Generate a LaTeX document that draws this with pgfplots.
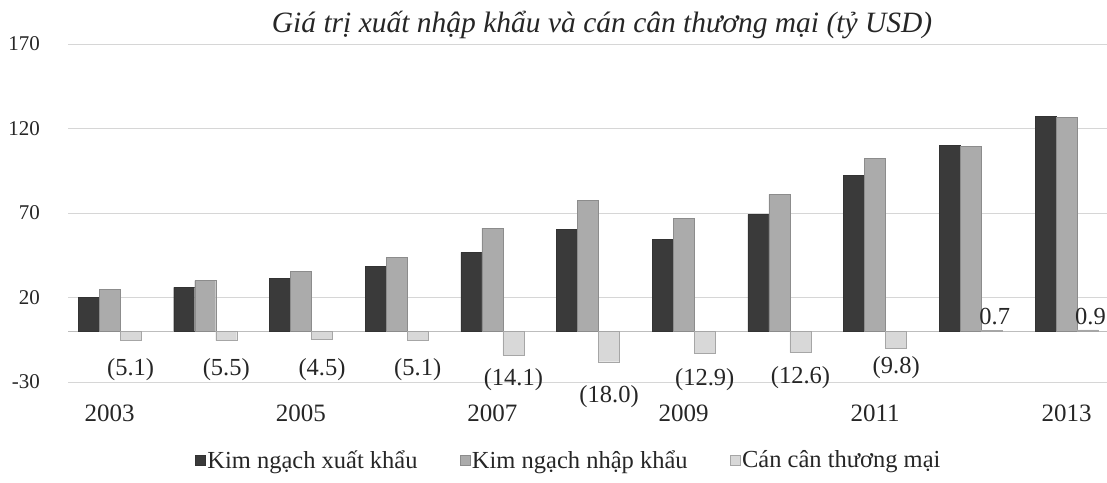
\documentclass[border=0pt]{standalone}
\usepackage{fontspec}
\setmainfont{Liberation Serif}
\usepackage{pgfplots}
\usepackage{pgfplotstable}
\pgfplotsset{compat=1.18}
\definecolor{expc}{HTML}{3A3A3A}
\definecolor{impc}{HTML}{ABABAB}
\definecolor{balc}{HTML}{D8D8D8}
\newcommand{\fs}[1]{\fontsize{#1}{#1}\selectfont}

\pgfplotstableread{
year val
2003 20.1
2004 26.0
2005 31.4
2006 38.4
2007 46.7
2008 60.4
2009 54.4
2010 69.2
2011 92.3
2012 110.0
2013 127.2
}\exporttable

\pgfplotstableread{
year val
2003 24.8
2004 30.0
2005 35.6
2006 43.8
2007 61.0
2008 77.5
2009 66.9
2010 81.0
2011 102.4
2012 109.5
2013 126.6
}\importtable

\pgfplotstableread{
year val
2003 -5.1
2004 -5.5
2005 -4.5
2006 -5.1
2007 -14.1
2008 -18.0
2009 -12.9
2010 -12.6
2011 -9.8
2012 0.7
2013 0.9
}\balancetable

\pgfplotstableread{
x y lab
2003.22 -22.5 (5.1)
2004.22 -22.5 (5.5)
2005.22 -22.5 (4.5)
2006.22 -22.5 (5.1)
2007.22 -28.4 (14.1)
2008.22 -38.5 (18.0)
2009.22 -28.4 (12.9)
2010.22 -27.2 (12.6)
2011.22 -21.3 (9.8)
2012.25 8.9 0.7
2013.25 8.9 0.9
}\labeltable

\begin{document}
\begin{tikzpicture}
\path[use as bounding box] (0,0) rectangle (1107pt,482pt);
\begin{axis}[
  at={(68pt,100pt)}, anchor=south west,
  scale only axis, width=1039pt, height=338pt,
  xmin=2002.566, xmax=2013.423, ymin=-30, ymax=170,
  clip=false,
  axis line style={draw=none},
  major tick length=0pt,
  ytick={-30,20,70,120,170}, yticklabels={-30,20,70,120,170},
  xtick={2003,2005,2007,2009,2011,2013},
  xticklabels={2003,2005,2007,2009,2011,2013},
  ymajorgrids, major grid style={black!16, line width=0.8pt},
  extra y ticks={0}, extra y tick labels={},
  extra y tick style={grid=major, major grid style={black!26, line width=0.8pt}},
  yticklabel style={font=\fs{21}, text=black!85, anchor=east, inner sep=0pt, xshift=-28pt},
  xticklabel style={font=\fs{25}, text=black!85, anchor=north, inner sep=0pt, yshift=-23pt},
  title={Giá trị xuất nhập khẩu và cán cân thương mại (tỷ USD)},
  title style={at={(axis description cs:0.514,1.038)}, anchor=center, font=\itshape\fs{29.5}, text=black!85, inner sep=0pt},
  legend columns=3,
  legend style={at={(axis description cs:0.122,-0.231)}, anchor=west, draw=none, fill=none, inner sep=0pt,
    font=\fs{24.5}, text=black!85, nodes={inner sep=2pt},
    /tikz/every even column/.append style={column sep=40pt}},
  legend image code/.code={\draw[#1,/tikz/.cd] (0pt,-5pt) rectangle (10pt,5pt);},
]
\addplot[ybar, bar width=21pt, bar shift=-21pt, fill=expc, draw=black!80] table[x=year, y=val] {\exporttable};
\addlegendentry{Kim ngạch xuất khẩu}
\addplot[ybar, bar width=21pt, bar shift=0pt, fill=impc, draw=black!45] table[x=year, y=val] {\importtable};
\addlegendentry{Kim ngạch nhập khẩu}
\addplot[ybar, bar width=21pt, bar shift=21pt, fill=balc, draw=black!35] table[x=year, y=val] {\balancetable};
\addlegendentry{Cán cân thương mại}
\addplot[draw=none, forget plot, nodes near coords, point meta=explicit symbolic,
  every node near coord/.append style={anchor=center, font=\fs{24.5}, text=black!85, inner sep=0pt}]
  table[x=x, y=y, meta=lab] {\labeltable};
\end{axis}
\end{tikzpicture}
\end{document}
